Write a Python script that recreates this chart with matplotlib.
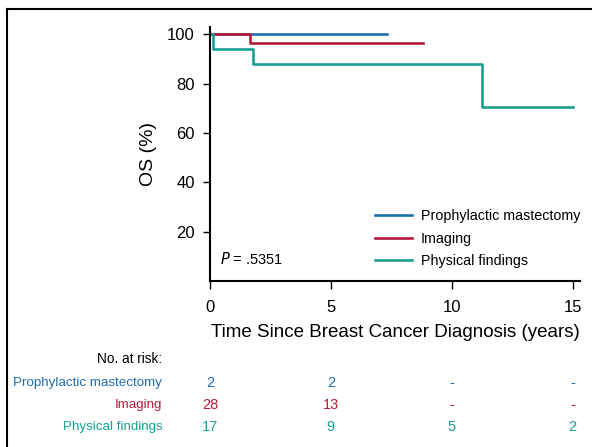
import matplotlib
matplotlib.use('Agg')
import matplotlib.pyplot as plt
from matplotlib.lines import Line2D
from matplotlib.transforms import blended_transform_factory

plt.rcParams['font.family'] = ['Liberation Sans', 'DejaVu Sans']

# 生存曲线（阶梯）
groups = ['Prophylactic mastectomy', 'Imaging', 'Physical findings']
colors = ['#1f6fa8', '#b51c3a', '#17a090']
times = [
    [0, 7.3],
    [0, 1.65, 8.8],
    [0, 0.12, 1.78, 11.25, 15.0],
]
surv = [
    [100, 100],
    [100, 96.4, 96.4],
    [100, 94.1, 88.2, 70.6, 70.6],
]

# 风险人数
risk_times = [0, 5, 10, 15]
risk_counts = [
    ['2', '2', '-', '-'],
    ['28', '13', '-', '-'],
    ['17', '9', '5', '2'],
]

fig = plt.figure(figsize=(5.92, 4.47), dpi=100)
ax = fig.add_axes([0.3547, 0.3714, 0.625, 0.568])

for t, s, c, g in zip(times, surv, colors, groups):
    ax.step(t, s, where='post', color=c, linewidth=1.9, label=g)

ax.set_xlim(0, 15.3)
ax.set_ylim(0, 103)
ax.set_xticks([0, 5, 10, 15])
ax.set_yticks([20, 40, 60, 80, 100])
ax.spines['top'].set_visible(False)
ax.spines['right'].set_visible(False)
ax.spines['left'].set_linewidth(1.5)
ax.spines['bottom'].set_linewidth(1.5)
ax.tick_params(axis='x', length=6, width=1, pad=8, labelsize=12)
ax.tick_params(axis='y', length=5, width=1, pad=6, labelsize=12)
ax.set_xlabel('Time Since Breast Cancer Diagnosis (years)', fontsize=13.5, labelpad=6)
ax.set_ylabel('OS (%)', fontsize=14, labelpad=7)

ax.text(0.4, 7, '$P$ = .5351', fontsize=10.5)

leg = ax.legend(loc='lower right', bbox_to_anchor=(1.035, 0.0), frameon=False,
                fontsize=10.3, handlelength=2.6, handletextpad=0.6, labelspacing=0.6)

# 风险表
tr = blended_transform_factory(ax.transData, fig.transFigure)
fig.text(0.274, 0.197, 'No. at risk:', ha='right', va='center', fontsize=9.8)
row_y = [0.143, 0.094, 0.045]
for g, c, y, counts in zip(groups, colors, row_y, risk_counts):
    fig.text(0.274, y, g, ha='right', va='center', fontsize=9.6, color=c)
    for t, n in zip(risk_times, counts):
        ax.text(t, y, n, transform=tr, ha='center', va='center', fontsize=10.5, color=c,
                clip_on=False)

# 外框
fig.add_artist(Line2D([0.012, 0.012], [0, 0.979], color='black', linewidth=1.5,
                      transform=fig.transFigure))
fig.add_artist(Line2D([0.012, 1], [0.979, 0.979], color='black', linewidth=1.5,
                      transform=fig.transFigure))

fig.savefig('out.png', dpi=100)
